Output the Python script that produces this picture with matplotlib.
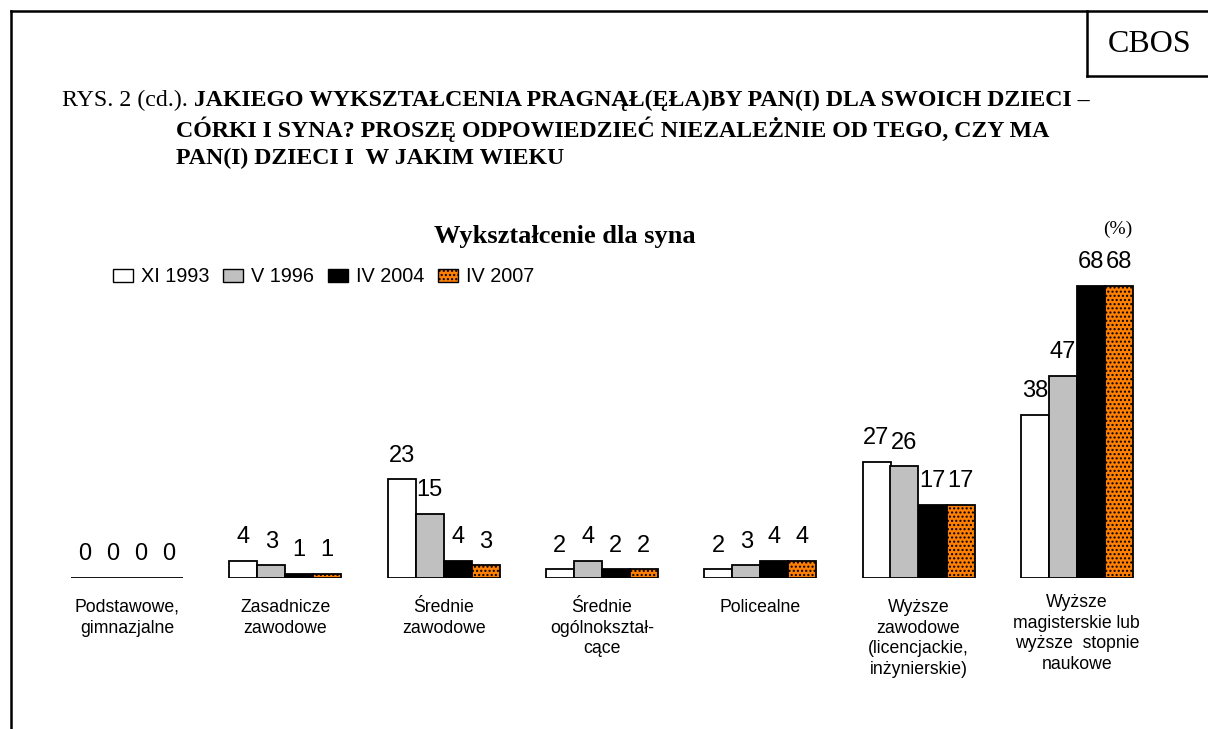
import matplotlib
matplotlib.use("Agg")
import matplotlib.pyplot as plt
from matplotlib.patches import Patch
from matplotlib.lines import Line2D
from matplotlib.transforms import blended_transform_factory
import numpy as np

categories = ["Podstawowe,\ngimnazjalne", "Zasadnicze\nzawodowe", "Średnie\nzawodowe",
              "Średnie\nogólnokształ-\ncące", "Policealne",
              "Wyższe\nzawodowe\n(licencjackie,\ninżynierskie)",
              "Wyższe\nmagisterskie lub\nwyższe  stopnie\nnaukowe"]
series_names = ["XI 1993", "V 1996", "IV 2004", "IV 2007"]
xi_1993 = [0, 4, 23, 2, 2, 27, 38]
v_1996 = [0, 3, 15, 4, 3, 26, 47]
iv_2004 = [0, 1, 4, 2, 4, 17, 68]
iv_2007 = [0, 1, 3, 2, 4, 17, 68]
series = [xi_1993, v_1996, iv_2004, iv_2007]

W, H = 1208, 729
plt.rcParams["hatch.color"] = "#7a3500"
plt.rcParams["hatch.linewidth"] = 1.0
fig = plt.figure(figsize=(W / 100, H / 100), dpi=100)
fig.patch.set_facecolor("white")

def fx(px):
    return px / W

def fy(py):
    return 1 - py / H

# axes: group centers at 127 + 158.3*i, baseline y=578, 4.3 px/unit
left_px = 127 - 158.3 * 0.5
right_px = 127 + 158.3 * 6.5
ymax = 80
top_px = 578 - 4.3 * ymax
ax = fig.add_axes([fx(left_px), fy(578), fx(right_px - left_px), (578 - top_px) / H])
ax.set_xlim(-0.5, 6.5)
ax.set_ylim(0, ymax)
ax.axis("off")

bw = 28 / 158.3
faces = ["white", "#C0C0C0", "black", "#FF8000"]
hatches = [None, None, None, "...."]
x = np.arange(len(categories))
for k, vals in enumerate(series):
    pos = x + (k - 1.5) * bw
    ax.bar(pos, vals, width=bw, color=faces[k], edgecolor="black",
           linewidth=1.3, hatch=hatches[k], zorder=2)
    for p, v in zip(pos, vals):
        ax.annotate(str(v), (p, v), xytext=(0, 9), textcoords="offset points",
                    ha="center", va="bottom", fontsize=17, family="Liberation Sans")

trans = blended_transform_factory(ax.transData, fig.transFigure)
for i, c in enumerate(categories):
    ytop = 594 if i == 6 else 599
    ax.text(i, fy(ytop), c, transform=trans, ha="center", va="top",
            fontsize=12.7, family="Liberation Sans", linespacing=1.27)

# legend
handles = [Patch(facecolor=faces[k], edgecolor="black", hatch=hatches[k], linewidth=1.0)
           for k in range(4)]
leg = fig.legend(handles, series_names, loc="center left", bbox_to_anchor=(fx(113), fy(277)),
                 ncol=4, frameon=False, prop={"family": "Liberation Sans", "size": 14.3},
                 handlelength=1.0, handleheight=0.6, handletextpad=0.4, columnspacing=0.7,
                 borderpad=0, borderaxespad=0)

# titles
fig.text(fx(565), fy(236), "Wykształcenie dla syna", ha="center", va="center",
         fontsize=19, fontweight="bold", family="Liberation Serif")
fig.text(fx(1118), fy(229), "(%)", ha="center", va="center", fontsize=14,
         family="Liberation Serif")

hdr_font = {"family": "Liberation Serif", "size": 17.2}
t0 = fig.text(fx(62), fy(100), "RYS. 2 (cd.). ", ha="left", va="center", **hdr_font)
fig.canvas.draw()
bb = t0.get_window_extent()
fig.text(bb.x1 / W, fy(100), "JAKIEGO WYKSZTAŁCENIA PRAGNĄŁ(ĘŁA)BY PAN(I) DLA SWOICH DZIECI –",
         ha="left", va="center", fontweight="bold", **hdr_font)
fig.text(fx(176), fy(129), "CÓRKI I SYNA? PROSZĘ ODPOWIEDZIEĆ NIEZALEŻNIE OD TEGO, CZY MA",
         ha="left", va="center", fontweight="bold", **hdr_font)
fig.text(fx(176), fy(158), "PAN(I) DZIECI I  W JAKIM WIEKU",
         ha="left", va="center", fontweight="bold", **hdr_font)

fig.text(fx(1150), fy(44), "CBOS", ha="center", va="center", fontsize=23,
         family="Liberation Serif")

# page border lines
lw = 1.8
fig.add_artist(Line2D([fx(11), fx(1208)], [fy(11), fy(11)], color="black", lw=lw))
fig.add_artist(Line2D([fx(11), fx(11)], [fy(11), fy(729)], color="black", lw=lw))
fig.add_artist(Line2D([fx(1087), fx(1087)], [fy(11), fy(76)], color="black", lw=lw))
fig.add_artist(Line2D([fx(1087), fx(1208)], [fy(76), fy(76)], color="black", lw=lw))

fig.savefig("out.png", dpi=100, facecolor="white")
